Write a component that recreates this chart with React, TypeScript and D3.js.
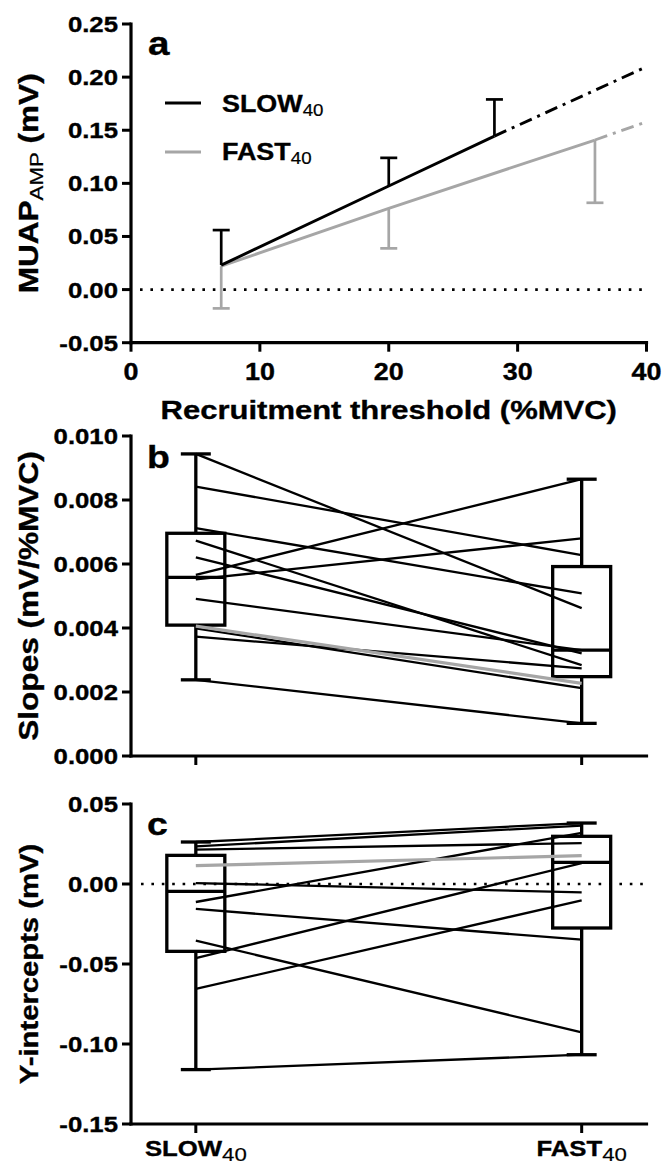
import React from 'react';
import * as d3 from 'd3';

const FONT = '"Liberation Sans", Arial, sans-serif';
const SX = 1.17;
const GRAY = '#a6a6a6';

// ---------- Panel a data ----------
const aXTicks = [0, 10, 20, 30, 40];
const aYTicks = [-0.05, 0, 0.05, 0.1, 0.15, 0.2, 0.25];
const slowX = [7, 20, 28.2];
const slowMean = [0.023, 0.0975, 0.1445];
const slowErr = [0.033, 0.0265, 0.0345];
const slowExtX = [28.2, 40];
const slowExtY = [0.1445, 0.2098];
const fastX = [7, 20, 36];
const fastMean = [0.022, 0.0765, 0.1408];
const fastErr = [0.0397, 0.0377, 0.0591];
const fastExtX = [36, 40];
const fastExtY = [0.1408, 0.158];

// ---------- Panel b data ----------
const groups = ['SLOW', 'FAST'];
const bYTicks = [0, 0.002, 0.004, 0.006, 0.008, 0.01];
const slopeSlow = [0.00944, 0.00842, 0.00712, 0.00673, 0.00621, 0.00566, 0.00552, 0.00491, 0.00399, 0.00373, 0.00238];
const slopeFast = [0.00462, 0.00628, 0.00508, 0.00284, 0.00321, 0.00865, 0.0068, 0.00331, 0.00212, 0.00274, 0.00102];
const slopeMean = [0.00406, 0.00227];
const slopeBoxSlow = [0.00238, 0.00409, 0.00558, 0.00696, 0.00944];
const slopeBoxFast = [0.00102, 0.00248, 0.00331, 0.00592, 0.00865];

// ---------- Panel c data ----------
const cYTicks = [-0.15, -0.1, -0.05, 0, 0.05];
const interSlow = [0.02625, 0.0235, 0.0215, 0.0006, -0.01125, -0.0156, -0.0354, -0.0463, -0.0656, -0.116];
const interFast = [0.0381, 0.0365, 0.0256, -0.0052, 0.0319, -0.0348, -0.0927, 0.0131, -0.0102, -0.1067];
const interMean = [0.0115, 0.0177];
const interBoxSlow = [-0.116, -0.0421, -0.0046, 0.0179, 0.02625];
const interBoxFast = [-0.1067, -0.0275, 0.0135, 0.0298, 0.0381];

const X0 = 131;
const X1 = 646.5;

function T({ x, y, anchor = 'start', size = 22, weight = 'bold', rotate = false, children }: any) {
  const tr = rotate
    ? `translate(${x},${y}) rotate(-90) scale(${SX},1)`
    : `translate(${x},${y}) scale(${SX},1)`;
  return (
    <text
      transform={tr}
      textAnchor={anchor}
      fontFamily={FONT}
      fontSize={size}
      fontWeight={weight}
      fill="#000"
      stroke="#000"
      strokeWidth={0.35}
    >
      {children}
    </text>
  );
}

function YAxis({ scale, ticks, fmt }: any) {
  const [lo, hi] = scale.domain();
  return (
    <g>
      <line x1={X0} x2={X0} y1={scale(lo)} y2={scale(hi)} stroke="#000" strokeWidth={3.2} strokeLinecap="square" />
      {ticks.map((t: number) => (
        <g key={t}>
          <line x1={X0 - 9} x2={X0} y1={scale(t)} y2={scale(t)} stroke="#000" strokeWidth={3} />
          <T x={118} y={scale(t) + 8} anchor="end" size={22}>{fmt(t)}</T>
        </g>
      ))}
    </g>
  );
}

function BoxPlot({ cx, y, stats }: any) {
  const [lo, q1, med, q3, hi] = stats;
  const hw = 29;
  const cw = 15;
  const sw = 3.3;
  return (
    <g stroke="#000" strokeWidth={sw} fill="none">
      <line x1={cx} x2={cx} y1={y(hi)} y2={y(q3)} />
      <line x1={cx} x2={cx} y1={y(q1)} y2={y(lo)} />
      <line x1={cx - cw} x2={cx + cw} y1={y(hi)} y2={y(hi)} />
      <line x1={cx - cw} x2={cx + cw} y1={y(lo)} y2={y(lo)} />
      <rect x={cx - hw} y={y(q3)} width={hw * 2} height={y(q1) - y(q3)} />
      <line x1={cx - hw} x2={cx + hw} y1={y(med)} y2={y(med)} />
    </g>
  );
}

export default function App() {
  const ax = d3.scaleLinear().domain([0, 40]).range([X0, X1]);
  const ay = d3.scaleLinear().domain([-0.05, 0.25]).range([342.7, 24]);
  const line = d3.line<[number, number]>().x((d) => ax(d[0])).y((d) => ay(d[1]));
  const slowPts = slowX.map((x, i) => [x, slowMean[i]] as [number, number]);
  const fastPts = fastX.map((x, i) => [x, fastMean[i]] as [number, number]);
  const slowExt = slowExtX.map((x, i) => [x, slowExtY[i]] as [number, number]);
  const fastExt = fastExtX.map((x, i) => [x, fastExtY[i]] as [number, number]);

  const cat = d3.scalePoint().domain(groups).range([X0, X1]).padding(0.168);
  const cs = cat('SLOW') as number;
  const cf = cat('FAST') as number;

  const by = d3.scaleLinear().domain([0, 0.01]).range([756, 436]);
  const cy = d3.scaleLinear().domain([-0.15, 0.05]).range([1124, 804]);

  const f2 = (d: number) => d.toFixed(2);
  const f3 = (d: number) => d.toFixed(3);

  return (
    <svg width={663} height={1168} style={{ position: 'absolute', left: 0, top: 0, background: '#fff' }}>
      <rect width={663} height={1168} fill="#fff" />

      {/* ================= Panel a ================= */}
      <line x1={ax(0) + 9} x2={X1} y1={ay(0)} y2={ay(0)} stroke="#000" strokeWidth={2.6} strokeDasharray="2.6 7.8" />
      {slowX.map((x, i) => (
        <g key={'se' + i} stroke="#000" strokeWidth={2.7}>
          <line x1={ax(x)} x2={ax(x)} y1={ay(slowMean[i])} y2={ay(slowMean[i] + slowErr[i])} />
          <line x1={ax(x) - 8.5} x2={ax(x) + 8.5} y1={ay(slowMean[i] + slowErr[i])} y2={ay(slowMean[i] + slowErr[i])} />
        </g>
      ))}
      {fastX.map((x, i) => (
        <g key={'fe' + i} stroke={GRAY} strokeWidth={2.7}>
          <line x1={ax(x)} x2={ax(x)} y1={ay(fastMean[i])} y2={ay(fastMean[i] - fastErr[i])} />
          <line x1={ax(x) - 8.5} x2={ax(x) + 8.5} y1={ay(fastMean[i] - fastErr[i])} y2={ay(fastMean[i] - fastErr[i])} />
        </g>
      ))}
      <path d={line(fastPts) || ''} fill="none" stroke={GRAY} strokeWidth={2.9} />
      <path d={line(fastExt) || ''} fill="none" stroke={GRAY} strokeWidth={2.9} strokeDasharray="13 6 3 6" />
      <path d={line(slowPts) || ''} fill="none" stroke="#000" strokeWidth={2.9} />
      <path d={line(slowExt) || ''} fill="none" stroke="#000" strokeWidth={2.9} strokeDasharray="13 6 3 6" />

      <YAxis scale={ay} ticks={aYTicks} fmt={f2} />
      <line x1={X0} x2={X1} y1={ay(-0.05)} y2={ay(-0.05)} stroke="#000" strokeWidth={3.2} strokeLinecap="square" />
      {aXTicks.map((t) => (
        <g key={'ax' + t}>
          <line x1={ax(t)} x2={ax(t)} y1={ay(-0.05)} y2={ay(-0.05) + 9} stroke="#000" strokeWidth={3} />
          <T x={ax(t)} y={380} anchor="middle" size={23}>{String(t)}</T>
        </g>
      ))}
      <T x={(X0 + X1) / 2} y={419} anchor="middle" size={26.5}>Recruitment threshold (%MVC)</T>
      <T x={38} y={ay(0.1)} anchor="middle" size={27} rotate>
        MUAP<tspan fontSize={19} fontWeight="normal" strokeWidth={0.2} dy={5}>AMP</tspan><tspan dy={-5}> (mV)</tspan>
      </T>
      <T x={148} y={55} size={33}>a</T>

      {/* legend */}
      <line x1={165} x2={201} y1={103} y2={103} stroke="#000" strokeWidth={2.9} />
      <line x1={165} x2={201} y1={152} y2={152} stroke={GRAY} strokeWidth={2.9} />
      <T x={222} y={112} size={23}>
        SLOW<tspan fontSize={16} fontWeight="normal" strokeWidth={0.2} dy={4}>40</tspan>
      </T>
      <T x={222} y={160} size={23}>
        FAST<tspan fontSize={16} fontWeight="normal" strokeWidth={0.2} dy={4}>40</tspan>
      </T>

      {/* ================= Panel b ================= */}
      <BoxPlot cx={cs} y={by} stats={slopeBoxSlow} />
      <BoxPlot cx={cf} y={by} stats={slopeBoxFast} />
      {slopeSlow.map((v, i) => (
        <line key={'bl' + i} x1={cs} x2={cf} y1={by(v)} y2={by(slopeFast[i])} stroke="#000" strokeWidth={2.3} />
      ))}
      <line x1={cs} x2={cf} y1={by(slopeMean[0])} y2={by(slopeMean[1])} stroke={GRAY} strokeWidth={3.2} />
      <YAxis scale={by} ticks={bYTicks} fmt={f3} />
      <line x1={X0} x2={X1} y1={by(0)} y2={by(0)} stroke="#000" strokeWidth={3.2} strokeLinecap="square" />
      {groups.map((g) => (
        <line key={'bt' + g} x1={cat(g)} x2={cat(g)} y1={by(0)} y2={by(0) + 9} stroke="#000" strokeWidth={3} />
      ))}
      <T x={38} y={by(0.005)} anchor="middle" size={27} rotate>Slopes (mV/%MVC)</T>
      <T x={147} y={468} size={32}>b</T>

      {/* ================= Panel c ================= */}
      <line x1={X0 + 10} x2={X1} y1={cy(0)} y2={cy(0)} stroke="#000" strokeWidth={2.6} strokeDasharray="2.6 7.8" />
      <BoxPlot cx={cs} y={cy} stats={interBoxSlow} />
      <BoxPlot cx={cf} y={cy} stats={interBoxFast} />
      {interSlow.map((v, i) => (
        <line key={'cl' + i} x1={cs} x2={cf} y1={cy(v)} y2={cy(interFast[i])} stroke="#000" strokeWidth={2.3} />
      ))}
      <line x1={cs} x2={cf} y1={cy(interMean[0])} y2={cy(interMean[1])} stroke={GRAY} strokeWidth={3.2} />
      <YAxis scale={cy} ticks={cYTicks} fmt={f2} />
      <line x1={X0} x2={X1} y1={cy(-0.15)} y2={cy(-0.15)} stroke="#000" strokeWidth={3.2} strokeLinecap="square" />
      {groups.map((g) => (
        <g key={'ct' + g}>
          <line x1={cat(g)} x2={cat(g)} y1={cy(-0.15)} y2={cy(-0.15) + 9} stroke="#000" strokeWidth={3} />
          <T x={cat(g) as number} y={1156} anchor="middle" size={22}>
            {g + ''}<tspan fontSize={19} fontWeight="normal" strokeWidth={0.2} dy={5}>40</tspan>
          </T>
        </g>
      ))}
      <T x={38} y={cy(-0.05)} anchor="middle" size={25} rotate>Y-intercepts (mV)</T>
      <T x={147} y={835} size={32}>c</T>
    </svg>
  );
}
